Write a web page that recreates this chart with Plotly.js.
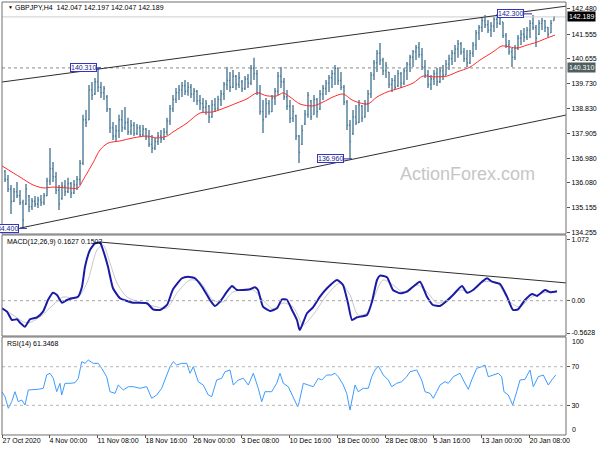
<!DOCTYPE html>
<html><head><meta charset="utf-8">
<script src="https://cdn.plot.ly/plotly-3.0.1.min.js"></script>
<style>html,body{margin:0;padding:0;background:#fff;}#chart{width:600px;height:450px;}</style>
</head><body><div id="chart"></div>
<script>
// ---- price bars (H4, one entry per bar slot) ----
const barOpen = [136.50,136.20,135.85,135.40,135.75,135.60,135.35,135.30,135.60,135.20,
135.40,135.30,135.45,135.35,135.60,136.15,136.60,136.30,135.80,135.50,
135.95,135.75,136.05,135.70,136.00,136.20,136.80,138.40,138.40,139.50,
139.35,139.80,139.60,139.40,139.25,138.80,138.10,137.80,138.00,138.40,
138.10,138.30,137.95,138.20,137.90,138.10,137.85,138.05,137.75,137.50,
137.35,137.60,137.80,137.70,137.95,138.35,138.80,139.15,139.40,139.50,
139.65,139.45,139.60,139.35,139.45,139.10,139.00,138.85,138.90,138.50,
138.95,138.80,139.15,139.35,139.70,139.85,139.60,140.00,139.70,139.80,
139.55,139.90,139.75,140.30,140.10,139.40,138.70,138.50,139.00,138.70,
139.20,139.45,140.00,139.80,139.25,138.90,138.45,138.55,137.80,137.50,
138.25,138.60,139.10,138.60,139.15,138.80,139.35,139.55,139.75,139.95,
140.10,140.30,139.85,139.60,139.05,138.20,137.90,138.50,138.30,138.90,
138.50,139.00,139.35,140.05,140.50,140.85,140.60,140.20,140.15,139.70,
139.85,139.65,140.10,139.75,140.20,140.45,140.70,140.90,141.05,140.80,
140.35,140.05,139.70,139.90,140.10,139.80,140.20,140.05,140.45,140.65,
140.85,141.00,141.20,140.90,140.65,140.50,140.85,141.15,141.60,141.80,
142.05,141.90,141.70,141.85,142.10,141.95,142.00,141.50,141.15,140.90,
140.70,141.05,141.40,141.55,141.45,141.70,141.95,141.80,141.55,141.95,
142.05,141.80,141.60,142.05];
const barHigh = [136.55,136.37,136.00,135.89,136.11,135.81,135.45,136.03,135.63,135.52,
135.59,135.56,135.63,135.70,136.26,137.36,136.84,136.48,136.00,136.11,
136.18,136.26,136.11,136.18,136.33,136.92,138.58,138.76,139.68,139.79,
139.94,140.31,139.79,139.64,139.31,138.83,138.32,138.21,138.58,138.76,
138.87,138.47,138.39,138.32,138.24,138.21,138.21,138.10,138.02,137.84,
137.73,137.95,138.02,138.10,138.47,138.94,139.31,139.57,139.68,139.79,
139.86,139.79,139.72,139.57,139.50,139.31,139.20,139.13,138.94,139.13,
139.20,139.28,139.50,139.79,140.34,140.16,140.23,140.05,140.16,139.86,
140.01,140.09,140.42,140.68,140.23,139.68,139.13,139.20,139.13,139.31,
139.57,140.16,140.34,139.94,139.50,139.13,138.94,138.58,137.84,138.21,
138.76,139.42,139.13,139.31,139.20,139.50,139.68,139.86,140.05,140.23,
140.42,140.31,140.16,139.68,139.13,138.39,138.76,138.94,139.13,138.94,
139.13,139.50,140.16,140.60,140.97,141.23,140.68,140.53,140.16,139.94,
140.05,140.23,140.16,140.31,140.53,140.79,140.97,141.15,141.26,141.04,
140.60,140.23,140.05,140.23,140.31,140.34,140.42,140.60,140.79,140.97,
141.15,141.34,141.26,141.04,140.97,140.97,141.26,141.71,141.89,142.15,
142.26,142.07,142.00,142.19,142.30,142.30,142.00,141.60,141.34,141.04,
141.15,141.52,141.71,141.78,141.82,142.07,142.26,141.89,142.07,142.15,
142.07,141.82,142.07,142.20];
const barLow = [136.11,135.74,134.93,135.37,135.52,135.26,134.41,135.26,135.00,135.08,
135.19,135.15,135.22,135.26,135.59,136.00,136.11,135.67,135.08,135.45,
135.59,135.70,135.52,135.67,135.81,136.00,136.73,138.13,138.39,139.13,
139.31,139.42,139.20,139.13,138.69,137.91,137.65,137.58,137.73,137.95,
138.02,137.84,137.84,137.80,137.84,137.77,137.80,137.65,137.40,137.18,
137.29,137.47,137.54,137.65,137.84,138.21,138.69,139.02,139.13,139.24,
139.31,139.28,139.20,139.05,138.94,138.76,138.69,138.58,138.28,138.47,
138.69,138.76,138.91,139.13,139.50,139.42,139.57,139.50,139.57,139.42,
139.50,139.57,139.68,139.86,139.31,138.58,137.91,138.47,138.58,138.69,
138.94,139.31,139.57,139.13,138.76,138.28,138.32,137.65,136.81,137.47,
138.21,138.47,138.39,138.58,138.47,138.76,139.13,139.31,139.42,139.57,
139.68,139.68,139.50,138.94,138.02,136.96,137.84,138.21,138.28,138.32,
138.47,138.69,139.20,139.86,140.16,140.42,140.05,139.94,139.57,139.42,
139.50,139.61,139.57,139.68,139.86,140.16,140.34,140.60,140.68,140.23,
139.94,139.57,139.50,139.68,139.64,139.75,139.86,140.05,140.23,140.42,
140.53,140.68,140.79,140.53,140.34,140.45,140.71,140.97,141.34,141.63,
141.78,141.60,141.45,141.63,141.78,141.89,141.41,141.04,140.79,140.34,
140.60,140.97,141.15,141.26,141.34,141.41,141.71,141.08,141.52,141.71,
141.63,141.45,141.60,142.05];
const barClose = [136.20,135.85,135.40,135.75,135.60,135.35,134.70,135.85,135.20,135.40,
135.30,135.45,135.35,135.60,136.15,136.60,136.30,135.80,135.30,135.95,
135.75,136.05,135.70,136.00,136.20,136.80,138.40,138.30,139.50,139.30,
139.80,139.60,139.40,139.55,138.80,138.10,137.80,138.00,138.40,138.10,
138.30,137.95,138.20,137.90,138.10,137.85,138.05,137.75,137.50,137.35,
137.60,137.80,137.70,137.95,138.35,138.80,139.15,139.40,139.50,139.65,
139.45,139.60,139.35,139.45,139.10,139.00,138.85,139.00,138.50,138.95,
138.80,139.15,139.35,139.70,139.85,139.60,140.00,139.70,139.95,139.55,
139.90,139.75,140.30,140.10,139.40,138.70,138.40,139.00,138.70,139.20,
139.45,140.00,139.80,139.25,138.90,138.45,138.70,137.80,137.20,138.00,
138.60,139.30,138.50,139.15,138.70,139.35,139.55,139.75,139.95,140.10,
140.30,139.85,139.60,139.05,138.20,137.60,138.50,138.30,138.95,138.45,
139.00,139.35,140.05,140.50,140.85,140.60,140.20,140.40,139.70,139.85,
139.60,140.10,139.75,140.20,140.45,140.70,140.90,141.05,140.80,140.35,
140.05,139.70,139.90,140.10,139.80,140.20,140.05,140.45,140.65,140.85,
141.00,141.20,140.90,140.65,140.50,140.85,141.15,141.60,141.80,142.05,
141.90,141.70,141.85,142.10,141.95,142.15,141.50,141.15,140.90,140.70,
141.05,141.40,141.55,141.45,141.70,141.95,141.80,141.40,141.95,142.05,
141.80,141.55,141.95,142.19];
const barX = barClose.map((_, i) => i);

// ---- moving average (red) ----
const maX = [-1,5,9.33,12.67,16,20.67,24.33,26,29.33,31.67,34.33,38.33,42.67,47.33,50.67,54,56,60.67,65,69.33,74,77.33,80.67,84,87.33,90.67,92.67,95,98.33,102.67,106,109.33,112.67,115.67,118.33,121,124,127.33,131.67,136,139.33,142.67,147.33,150.67,155,158.33,162.67,165.67,168.33,170.67,174,177.33,180.67,183.33];
const maVal = [136.70,136.29,136.00,135.89,135.92,135.89,135.89,136.18,136.81,137.29,137.54,137.62,137.73,137.80,137.73,137.80,137.95,138.28,138.65,138.69,138.87,139.02,139.17,139.39,139.28,139.28,139.39,139.24,138.98,138.91,139.05,139.24,139.35,139.13,139.02,138.98,139.24,139.42,139.57,139.75,140.01,139.98,140.01,140.16,140.34,140.60,140.90,141.12,141.08,141.04,141.15,141.26,141.41,141.52];

// ---- MACD(12,26,9) ----
const macdX = [-1,0.67,2.33,4,5,6.67,8.33,10.67,12.67,14.33,16,17.33,19,20.67,22.33,24.33,25.67,26.67,28.33,30,31.67,32.67,34.33,36,38.33,40.67,42.67,47.33,49.33,51.67,54,56,59,61,63.33,65.67,68.33,70,71.67,74,75.67,77.33,79.33,81.67,83.33,84.33,86,88.33,90.67,92.33,94,95.67,97.33,98,98.33,100.67,102.67,105,107.33,110.67,112.67,114.33,115.67,117.33,120.67,122.33,124,125,127.33,129.33,131.67,134,136,138.33,140.67,142.67,145,147.33,149.33,152.33,154,156,159,160.67,162.33,165,167.33,169.33,171,173.33,175.67,177.33,180,181.67,184];
const macdVal = [-0.132,-0.191,-0.336,-0.323,-0.383,-0.452,-0.323,-0.289,-0.191,0.012,0.139,0.099,-0.035,0.012,0.042,0.070,0.243,0.591,0.882,0.998,1.009,0.882,0.591,0.216,0.042,-0.005,-0.035,-0.045,-0.150,-0.162,-0.075,0.198,0.390,0.417,0.390,0.243,0.012,-0.092,-0.017,0.157,0.256,0.186,0.186,0.198,0.233,0.186,-0.104,-0.179,-0.132,0.024,0.012,-0.162,-0.336,-0.480,-0.510,-0.219,-0.115,0.070,0.216,0.360,0.273,-0.045,-0.336,-0.289,-0.249,-0.017,0.360,0.435,0.407,0.186,0.129,0.157,0.243,0.330,0.070,-0.075,-0.092,0.000,0.099,0.256,0.139,0.186,0.330,0.390,0.330,0.290,0.070,-0.162,-0.150,0.012,0.117,0.082,0.186,0.146,0.163];
const sigX = [-1,2.67,7.33,11.67,16,19.33,24,27.33,30.67,32.67,35,37.33,40.67,45,50.67,54,57.33,61.67,65,69.33,72.67,76,82.67,86,89.33,92.67,96,98,99.33,102.67,107.33,111.67,115,117.67,120.67,122.67,126,129.33,132.67,137.33,140.67,144,147.33,151.67,155,159.33,164,168.33,171.67,175,179.33,184];
const sigVal = [-0.127,-0.249,-0.388,-0.283,-0.075,0.064,0.047,0.308,0.882,0.969,0.656,0.308,0.064,-0.023,-0.110,-0.127,0.134,0.360,0.325,0.012,-0.023,0.151,0.186,0.012,-0.144,-0.040,-0.110,-0.301,-0.423,-0.249,0.099,0.308,0.099,-0.249,-0.214,0.012,0.360,0.273,0.151,0.273,0.151,-0.040,0.012,0.186,0.151,0.325,0.308,-0.023,-0.110,0.047,0.134,0.150];

// ---- RSI(14) ----
const rsiX = [-1,0,1.1,2.23,3.33,4.43,5.57,6.67,7.77,9.43,11.1,12.77,13.9,15,16.1,17.23,18.33,18.9,20,21.67,23.33,24.43,25.57,26.67,27.77,29.43,31.1,32.23,33.9,35,36.67,37.77,39.43,41.1,42.77,45,47.23,48.9,50.57,52.23,53.33,55,56.1,57.23,58.9,60.57,61.67,62.77,64.43,66.1,67.77,68.9,70.57,72.23,73.33,75,76.1,77.77,79.43,81.1,82.77,84.43,85.57,86.67,88.9,90.57,91.67,92.77,94.43,96.1,97.57,98.1,99.43,101.1,102.77,104.43,105.57,107.23,108.9,110,111.1,112.77,113.9,115,116.1,116.67,117.77,119.43,121.1,122.23,123.33,124.43,126.1,127.77,128.9,130.57,132.23,133.9,135,137.23,138.9,140,141.67,142.77,143.9,145,146.67,147.77,149.43,151.67,152.77,154.43,155.57,157.23,158.9,160,161.1,162.77,164.43,165.57,166.33,167.77,169.23,170.57,171.67,173.33,175,176.1,177.77,179.43,181.1,182.23,183.57];
const rsiVal = [44.1,38.9,26.9,33.7,44.1,33.7,35.5,30.3,45.9,45.9,46.6,47.6,61.4,63.2,58.0,44.1,52.8,40.7,52.8,52.8,53.4,58.0,75.2,73.5,76.9,73.5,73.5,68.3,59.6,44.1,42.4,51.0,45.9,49.3,49.3,47.6,49.3,37.3,40.7,47.6,56.2,70.0,75.2,71.8,73.5,73.5,63.2,70.0,54.5,51.0,40.7,38.9,56.2,58.0,64.8,66.6,51.0,56.2,58.0,51.0,63.2,47.6,33.7,44.1,44.1,52.8,63.2,52.8,49.3,38.9,28.5,33.7,52.8,51.0,49.3,58.0,56.2,61.4,61.4,63.2,59.6,51.0,42.4,25.1,42.4,51.0,44.1,47.6,47.6,59.6,66.6,70.7,61.4,56.2,49.3,52.8,54.5,59.6,64.8,66.6,56.2,44.1,42.4,37.3,44.1,51.0,54.5,52.8,59.6,63.2,56.2,46.6,56.2,68.3,70.0,71.8,59.6,61.4,63.2,59.6,44.1,40.7,30.3,44.1,56.2,56.9,66.6,49.3,59.6,61.4,51.0,56.2,61.3];

// ---- axis labels ----
const timeTickPos = [-1,14.67,30.67,46.67,62.67,78.67,94.67,110.67,126.67,142.67,158.67,174.67];
const timeTickText = ['27 Oct 2020','4 Nov 00:00','11 Nov 08:00','18 Nov 16:00','26 Nov 00:00','3 Dec 08:00','10 Dec 16:00','18 Dec 00:00','28 Dec 08:00','5 Jan 16:00','13 Jan 00:00','20 Jan 08:00'];
const priceTicks = [142.480,141.555,140.655,139.730,138.830,137.905,136.980,136.080,135.155,134.255];
const macdTicks = [1.072, 0, -0.5628];
const macdTickText = ['1.072','0.00','-0.5628'];
const rsiTicks = [70, 30];

// ---- marked levels ----
const lastPrice = 142.189;
const levelLine = 140.310;
const markHigh1 = 140.310, markLow1 = 136.960, markHigh2 = 142.300, markLow0 = 134.400;
const upperChannel = {x0: -1, y0: 139.79, x1: 187.33, y1: 142.59};
const lowerChannel = {x0: 5, y0: 134.41, x1: 187.33, y1: 138.58};
const macdTrend = {x0: 31.67, y0: 1.02, x1: 187.33, y1: 0.308};

const FONT = 'Liberation Sans, Arial, sans-serif';
const barColor = '#4d7b98';

const traces = [
  {type:'ohlc', x: barX, open: barOpen, high: barHigh, low: barLow, close: barClose,
   xaxis:'x', yaxis:'y', tickwidth: 0.35,
   increasing:{line:{color:barColor, width:1.4}}, decreasing:{line:{color:barColor, width:1.4}},
   hoverinfo:'skip', showlegend:false},
  {type:'scatter', mode:'lines', x: maX, y: maVal, xaxis:'x', yaxis:'y',
   line:{color:'#ff2a2a', width:1, shape:'spline', smoothing:0.8}, showlegend:false},
  {type:'scatter', mode:'lines', x: sigX, y: sigVal, xaxis:'x', yaxis:'y2',
   line:{color:'#c8c8c8', width:1, shape:'spline', smoothing:0.8}, showlegend:false},
  {type:'scatter', mode:'lines', x: macdX, y: macdVal, xaxis:'x', yaxis:'y2',
   line:{color:'#1a1aa6', width:2, shape:'spline', smoothing:0.5}, showlegend:false},
  {type:'scatter', mode:'lines', x: rsiX, y: rsiVal, xaxis:'x', yaxis:'y3',
   line:{color:'#3d9bff', width:1}, showlegend:false}
];

function ln(xref, yref, x0, y0, x1, y1, color, width, dash) {
  return {type:'line', xref, yref, x0, y0, x1, y1, line:{color, width, dash: dash || 'solid'}};
}
function frame(y0, y1) {
  return {type:'rect', xref:'paper', yref:'paper', x0:0, x1:1, y0, y1, line:{color:'#6f6f6f', width:1}, fillcolor:'rgba(0,0,0,0)'};
}

const shapes = [
  ln('x','y', -1, levelLine, 187, levelLine, '#8a8a8a', 1, 'dot'),
  ln('x','y', -1, lastPrice, 187, lastPrice, '#cfcfcf', 1),
  ln('x','y', upperChannel.x0, upperChannel.y0, upperChannel.x1, upperChannel.y1, '#2e2e2e', 1),
  ln('x','y', lowerChannel.x0, lowerChannel.y0, lowerChannel.x1, lowerChannel.y1, '#2e2e2e', 1),
  ln('x','y', 30.67, markHigh1, 32, markHigh1, '#2a2aa0', 1),
  ln('x','y', 113, markLow1, 115.67, markLow1, '#2a2aa0', 1),
  ln('x','y', 173, markHigh2, 175.7, markHigh2, '#2a2aa0', 1),
  ln('x','y', 4.67, markLow0, 7.3, markLow0, '#2a2aa0', 1),
  ln('x','y2', -1, 0, 187, 0, '#a8a8a8', 1, 'dot'),
  ln('x','y2', macdTrend.x0, macdTrend.y0, macdTrend.x1, macdTrend.y1, '#2e2e2e', 1),
  ln('x','y3', -1, 70, 187, 70, '#b4b4b4', 1, 'dot'),
  ln('x','y3', -1, 30, 187, 30, '#b4b4b4', 1, 'dot'),
  frame(0.46296, 1.0),
  frame(0.22685, 0.46065),
  frame(-0.0023, 0.22454)
];

function boxLabel(x, y, text) {
  return {xref:'x', yref:'y', x, y, text, showarrow:false, xanchor:'right', yanchor:'middle',
    font:{family:FONT, size:7, color:'#22228c'}, bgcolor:'#ffffff', bordercolor:'#3434c4', borderwidth:1, borderpad:0};
}
function axisTag(y, text, bg) {
  return {xref:'paper', yref:'y', x:1, y, text, showarrow:false, xanchor:'left', yanchor:'middle', xshift:1,
    font:{family:FONT, size:7, color:'#ffffff'}, bgcolor:bg, borderpad:1};
}
function paperText(x, y, text, size, color, anchor) {
  return {xref:'paper', yref:'paper', x, y, text, showarrow:false, xanchor:anchor || 'left', yanchor:'middle',
    font:{family:FONT, size, color}};
}

const annotations = [
  paperText(0.0071, 0.9884, '▼', 5, '#000'),
  paperText(0.0195, 0.9884, 'GBPJPY,H4  142.047 142.197 142.047 142.189', 7, '#000'),
  paperText(0.0053, 0.4444, 'MACD(12,26,9) 0.1627 0.1502', 7, '#000'),
  paperText(0.0053, 0.2083, 'RSI(14) 61.3468', 7, '#000'),
  paperText(0.8262, 0.6019, 'ActionForex.com', 18, '#c6c6c6', 'center'),
  boxLabel(30.67, markHigh1, '140.310'),
  boxLabel(113, markLow1, '136.960'),
  boxLabel(173, markHigh2, '142.300'),
  boxLabel(4.67, markLow0, '134.400'),
  axisTag(lastPrice, '142.189', '#000000'),
  axisTag(levelLine, '140.310', '#4f5f60'),
  {xref:'paper', yref:'paper', x:1, y:0.213, text:'100', showarrow:false, xanchor:'left', yanchor:'middle', xshift:4, font:{family:FONT, size:7, color:'#000'}},
  {xref:'paper', yref:'paper', x:1, y:0.0104, text:'0', showarrow:false, xanchor:'left', yanchor:'middle', xshift:4, font:{family:FONT, size:7, color:'#000'}}
];

const yCommon = {side:'right', anchor:'x', showgrid:false, zeroline:false, showline:false,
  ticks:'outside', ticklen:3, tickcolor:'#555', tickfont:{family:FONT, size:7, color:'#000'}, fixedrange:true};

const layout = {
  width:600, height:450, margin:{l:2, r:34, t:2, b:16},
  paper_bgcolor:'#fff', plot_bgcolor:'#fff', showlegend:false,
  xaxis:{anchor:'y3', range:[-1,187], showgrid:false, zeroline:false, showline:false,
    tickvals: timeTickPos, ticktext: timeTickText, ticks:'outside', ticklen:3, tickcolor:'#555',
    tickangle:0, automargin:false,
    ticklabelposition:'outside right', tickfont:{family:FONT, size:7, color:'#000'},
    rangeslider:{visible:false}, fixedrange:true},
  yaxis: Object.assign({}, yCommon, {domain:[0.4653, 0.9977], range:[134.2296, 142.701],
    tickvals: priceTicks, ticktext: priceTicks.map(v => v.toFixed(3))}),
  yaxis2: Object.assign({}, yCommon, {domain:[0.2292, 0.4583], range:[-0.597, 1.125],
    tickvals: macdTicks, ticktext: macdTickText}),
  yaxis3: Object.assign({}, yCommon, {domain:[0, 0.2222], range:[0.26, 99.74],
    tickvals: rsiTicks, ticktext: rsiTicks.map(String)}),
  shapes, annotations
};

Plotly.newPlot('chart', traces, layout, {staticPlot:true, displayModeBar:false});
</script></body></html>
